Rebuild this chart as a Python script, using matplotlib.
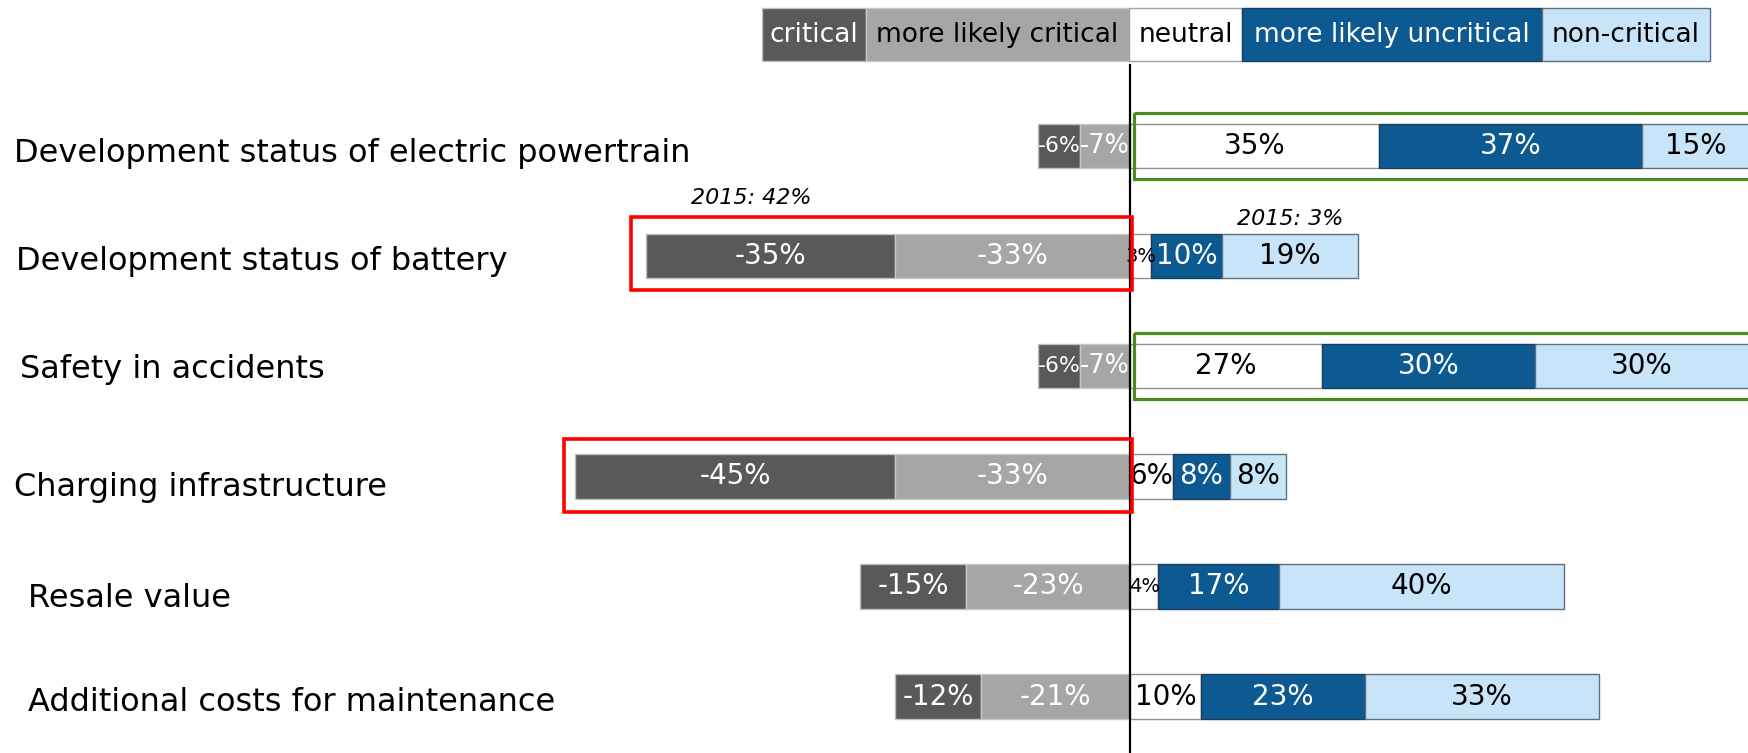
import matplotlib
matplotlib.use("Agg")
import matplotlib.pyplot as plt
from matplotlib.patches import Rectangle

plt.rcParams["font.family"] = ["DejaVu Sans"]

categories = [
    "Development status of electric powertrain",
    "Development status of battery",
    "Safety in accidents",
    "Charging infrastructure",
    "Resale value",
    "Additional costs for maintenance",
]
critical = [-6, -35, -6, -45, -15, -12]
likely_critical = [-7, -33, -7, -33, -23, -21]
neutral = [35, 3, 27, 6, 4, 10]
likely_uncritical = [37, 10, 30, 8, 17, 23]
non_critical = [15, 19, 30, 8, 40, 33]

legend_labels = ["critical", "more likely critical", "neutral",
                 "more likely uncritical", "non-critical"]
notes = ["2015: 42%", "2015: 3%"]

colors = ["#595959", "#a6a6a6", "#ffffff", "#0d5991", "#c8e4f8"]
edges = ["#bfbfbf", "#c8c8c8", "#909090", "#1c3d5c", "#5f6f7f"]
text_colors = ["white", "white", "black", "white", "black"]
legend_text_colors = ["white", "black", "black", "white", "black"]

W, H = 1748, 753
fig = plt.figure(figsize=(W / 100, H / 100), dpi=100)
ax = fig.add_axes([0, 0, 1, 1])
ax.set_xlim(-158.9, 86.9)
ax.set_ylim(5.513, -1.326)
ax.axis("off")
renderer = fig.canvas.get_renderer()
px_per_unit = W / (86.9 + 158.9)

rows = list(range(len(categories)))
bar_h = 0.404

# negative side: more likely critical sits next to zero, critical further out
segments = [
    (critical, likely_critical),
    (likely_critical, [0] * 6),
    (neutral, [0] * 6),
    (likely_uncritical, neutral),
    (non_critical, [n + u for n, u in zip(neutral, likely_uncritical)]),
]

for k, (vals, lefts) in enumerate(segments):
    ax.barh(rows, vals, left=lefts, height=bar_h, color=colors[k],
            edgecolor=edges[k], linewidth=1, zorder=2)
    for i, (v, l) in enumerate(zip(vals, lefts)):
        t = ax.text(l + v / 2, i, f"{v}%", ha="center", va="center",
                    fontsize=20, color=text_colors[k], zorder=4)
        # shrink labels that don't fit in their segment
        tw = t.get_window_extent(renderer).width
        bw = abs(v) * px_per_unit
        if tw > bw * 1.08:
            t.set_fontsize(max(14, 20 * bw / tw))

# zero line
ax.plot([0, 0], [-0.735, 5.6], color="black", lw=1.6, zorder=5)

# category labels
trans = ax.get_yaxis_transform()
label_x = [14.5, 16.5, 20, 13.5, 28, 28]
label_dy = [0.143, 0.127, 0.109, 0.182, 0.19, 0.136]
for i, cat in enumerate(categories):
    ax.text(label_x[i] / W, i + label_dy[i], cat, transform=trans,
            ha="left", va="baseline", fontsize=23, color="black")

# highlight boxes
for (x0, x1, y0, y1) in [(-70.1, 0.3, 0.649, 1.307), (-79.6, 0.3, 2.660, 3.326)]:
    ax.add_patch(Rectangle((x0, y0), x1 - x0, y1 - y0, fill=False,
                           edgecolor="#ff0000", lw=2.6, zorder=6))
for (y0, y1) in [(-0.297, 0.302), (1.701, 2.300)]:
    ax.add_patch(Rectangle((0.5, y0), 95, y1 - y0, fill=False,
                           edgecolor="#4e8a1e", lw=2.3, zorder=6))

# 2015 notes
ax.text(-53.2, 0.472, notes[0], ha="center", va="center", fontsize=16,
        style="italic")
ax.text(22.5, 0.663, notes[1], ha="center", va="center", fontsize=16,
        style="italic")

# legend strip at the top
box_x = [762, 866, 1129, 1242, 1542, 1710]
y_top, y_bot = 8, 61
for k, lab in enumerate(legend_labels):
    x0, x1 = box_x[k] / W, box_x[k + 1] / W
    fig.patches.append(Rectangle((x0, 1 - y_bot / H), x1 - x0, (y_bot - y_top) / H,
                                 transform=fig.transFigure, facecolor=colors[k],
                                 edgecolor=edges[k] if k != 2 else "#a0a0a0",
                                 lw=1))
    fig.text((x0 + x1) / 2, 1 - (y_top + y_bot) / 2 / H, lab, ha="center",
             va="center", fontsize=19, color=legend_text_colors[k])

fig.savefig("out.png", dpi=100)
